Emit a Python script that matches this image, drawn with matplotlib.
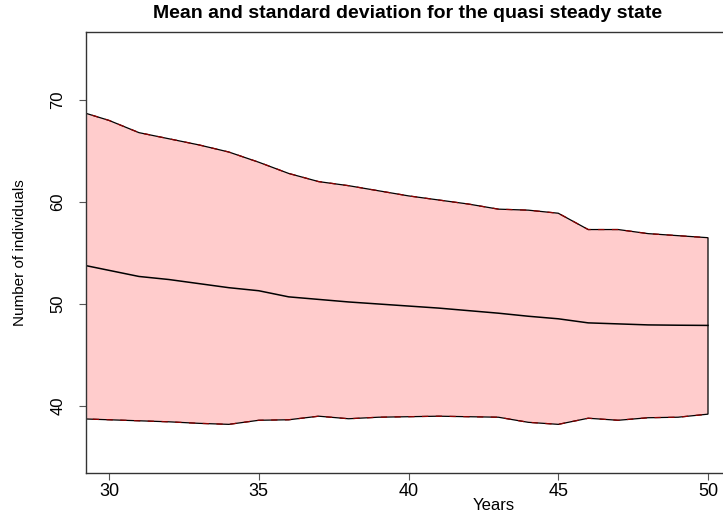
import matplotlib
matplotlib.use("Agg")
import matplotlib.pyplot as plt
import numpy as np

years = [29, 30, 31, 32, 33, 34, 35, 36, 37, 38, 39, 40,
         41, 42, 43, 44, 45, 46, 47, 48, 49, 50]
upper = [68.9, 68.0, 66.8, 66.2, 65.6, 64.9, 63.9, 62.8, 62.0, 61.6, 61.1, 60.6,
         60.2, 59.8, 59.3, 59.2, 58.9, 57.3, 57.3, 56.9, 56.7, 56.5]
mean = [53.9, 53.3, 52.7, 52.4, 52.0, 51.6, 51.3, 50.7, 50.45, 50.2, 50.0, 49.8,
        49.6, 49.35, 49.1, 48.8, 48.55, 48.15, 48.05, 47.95, 47.92, 47.9]
lower = [38.75, 38.65, 38.55, 38.45, 38.3, 38.2, 38.6, 38.65, 39.0, 38.75, 38.9, 38.95,
         39.0, 38.95, 38.9, 38.4, 38.2, 38.8, 38.6, 38.85, 38.9, 39.2]

xtick_vals = [30, 35, 40, 45, 50]
ytick_vals = [40, 50, 60, 70]

plt.rcParams['font.family'] = ['Liberation Sans', 'DejaVu Sans']

fig = plt.figure(figsize=(7.23, 5.13), dpi=100)
# plot box runs past the right edge of the picture, like the reference
ax = fig.add_axes([86 / 723, 40 / 513, 651 / 723, 441 / 513])

x = np.array(years, dtype=float)
up = np.array(upper)
lo = np.array(lower)

ax.fill(np.concatenate([x, x[::-1]]), np.concatenate([up, lo[::-1]]),
        facecolor='#FFCCCC', edgecolor='black', lw=0.9)
ax.plot(x, up, color='#8B0000', lw=0.9, dashes=(5, 6))
ax.plot(x, lo, color='#8B0000', lw=0.9, dashes=(5, 6))
ax.plot(x, mean, color='black', lw=1.1)

ax.set_xlim(30 - 23 / 29.95, 30 - 23 / 29.95 + 651 / 29.95)
ax.set_ylim(40 - 67 / 10.2, 70 + 68 / 10.2)

ax.set_xticks(xtick_vals)
ax.set_yticks(ytick_vals)
ax.tick_params(direction='out', length=5, width=0.8, color='#555555',
               labelsize=13, pad=2)
ax.tick_params(axis='y', pad=10, labelsize=12)
for lab in ax.get_yticklabels():
    lab.set_rotation(90)
    lab.set_va('center')

for s in ax.spines.values():
    s.set_linewidth(1.0)
    s.set_color('#333333')

ax.set_xlabel('Years', fontsize=12)
ax.xaxis.set_label_coords(408 / 651, (513 - 505 - 40) / 441)
ax.xaxis.label.set_va('center')
ax.set_ylabel('Number of individuals', fontsize=11)
ax.yaxis.set_label_coords((20 - 86) / 651, 0.5)
ax.yaxis.label.set_va('center')

fig.text(408 / 723, 1 - 13 / 513,
         'Mean and standard deviation for the quasi steady state',
         ha='center', va='center', fontsize=14, fontweight='bold')

fig.savefig('out.png', dpi=100)
